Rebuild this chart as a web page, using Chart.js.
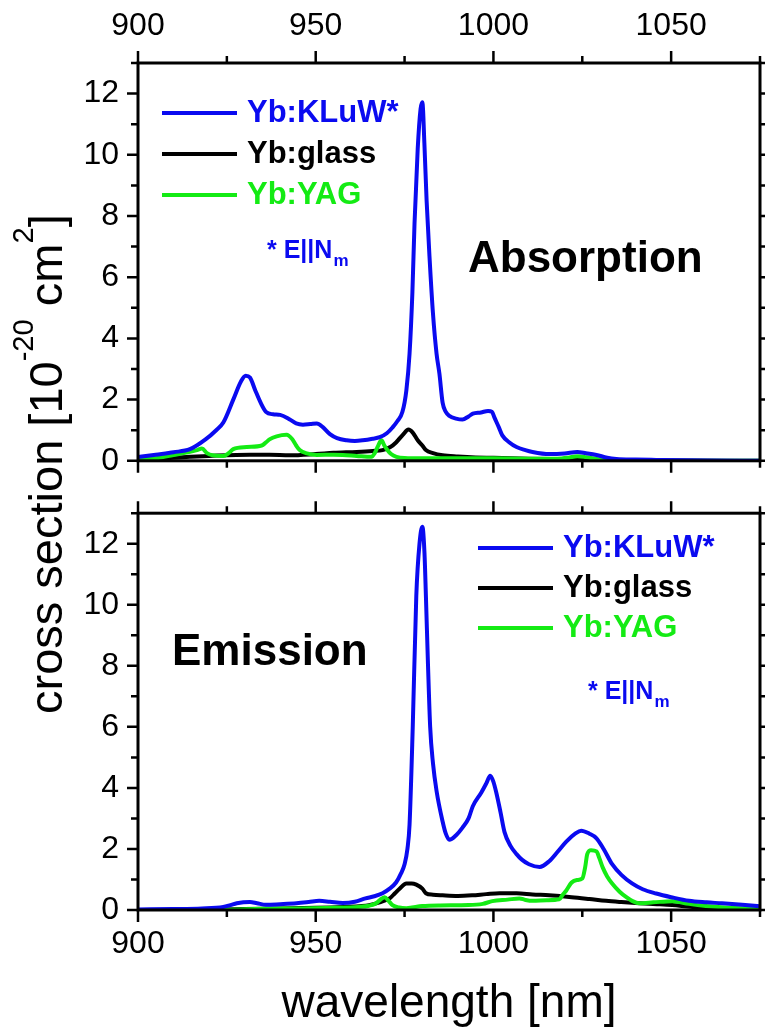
<!DOCTYPE html>
<html>
<head>
<meta charset="utf-8">
<title>Yb cross sections</title>
<script src="https://cdn.jsdelivr.net/npm/chart.js@4.4.1/dist/chart.umd.min.js"></script>
<style>
    body { margin: 0; background: #fff; }
    #wrap {
        position: relative; width: 765px; height: 1033px; overflow: hidden;
        font-family: 'Liberation Sans', Arial, sans-serif; color: #000;
    }
    #wrap canvas { position: absolute; left: 0; }
    #chartAbs { top: 0; }
    #chartEm { top: 487px; }
    .ytitle {
        position: absolute; left: 20px; top: 714px;
        transform-origin: 0 0; transform: rotate(-90deg);
        font-size: 47px; line-height: 52px; white-space: nowrap;
    }
    .ytitle sup { font-size: 0.62em; vertical-align: 0; position: relative; top: -1.0em; }
    .xtitle {
        position: absolute; left: 138px; width: 622px; top: 975px;
        text-align: center; font-size: 46px; line-height: 52px; white-space: nowrap;
    }
</style>
</head>
<body>
<div id="wrap">
    <canvas id="chartAbs" width="765" height="487"></canvas>
    <canvas id="chartEm" width="765" height="546"></canvas>
    <div class="ytitle">cross section [10<sup>-20</sup> cm<sup>2</sup>]</div>
    <div class="xtitle">wavelength [nm]</div>
</div>
<script>
// axis ticks
const xTickLabels = [900, 950, 1000, 1050];
const xTickMarks = [900, 925, 950, 975, 1000, 1025, 1050, 1075];
const yTickLabels = [0, 2, 4, 6, 8, 10, 12];
const yTickMarks = [0, 1, 2, 3, 4, 5, 6, 7, 8, 9, 10, 11, 12, 13];

const seriesNames = ['Yb:KLuW*', 'Yb:glass', 'Yb:YAG'];
const seriesColors = ['#0a0af0', '#000000', '#14eb14'];

// absorption, Yb:KLuW (E||Nm)
const absKLuWnm = [900, 905, 910, 914.6, 919, 922, 924, 926.8, 929, 930.3, 931.5, 933, 934.5, 936, 938, 940,
    942.7, 944.5, 946.4, 948.5, 950.3, 952, 954, 956, 958.7, 961, 963.2, 966, 968, 970, 971.6, 973, 974.4,
    975.5, 976.4, 977.2, 977.8, 978.7, 979.5, 980, 980.6, 981.2, 982, 983, 984, 984.8, 985.7, 986.6, 987.6,
    989.5, 991.3, 993, 994.2, 996.5, 998.5, 999.6, 1000.3, 1001.5, 1002.5, 1004.5, 1006.5, 1009, 1011,
    1015.7, 1020, 1023.6, 1026, 1029, 1032, 1034.6, 1040, 1045.8, 1060, 1075];
const absKLuW = [0.12, 0.2, 0.28, 0.38, 0.7, 1.0, 1.25, 2.0, 2.6, 2.78, 2.72, 2.3, 1.9, 1.6, 1.52, 1.5,
    1.35, 1.22, 1.18, 1.2, 1.22, 1.1, 0.87, 0.74, 0.67, 0.65, 0.67, 0.72, 0.77, 0.9, 1.09, 1.3, 1.6,
    2.3, 3.5, 5.5, 7.76, 10.2, 11.5, 11.72, 10.3, 8.5, 6.7, 4.8, 3.5, 2.85, 1.9, 1.6, 1.47,
    1.38, 1.35, 1.45, 1.54, 1.58, 1.63, 1.6, 1.41, 1.1, 0.83, 0.6, 0.45, 0.35, 0.29,
    0.22, 0.24, 0.29, 0.25, 0.19, 0.1, 0.06, 0.04, 0.03, 0.01, 0.0];

// absorption, Yb:glass
const absGlassNm = [900, 905, 910, 914.6, 920, 931.5, 937, 942.7, 950, 955, 961.5, 966, 968.8, 971, 972.6,
    974.5, 976.1, 977.3, 978.7, 980, 981, 983, 985.7, 990, 995, 1000, 1010, 1020, 1030, 1040, 1055, 1075];
const absGlass = [0.02, 0.05, 0.1, 0.13, 0.16, 0.2, 0.2, 0.18, 0.22, 0.26, 0.29, 0.32, 0.35, 0.45, 0.6,
    0.85, 1.02, 0.92, 0.67, 0.5, 0.35, 0.25, 0.18, 0.14, 0.11, 0.1, 0.07, 0.05, 0.03, 0.02, 0.01, 0.0];

// absorption, Yb:YAG
const absYAGnm = [900, 905, 910, 914, 916.6, 918, 919.4, 921, 924, 925.5, 926.8, 930.6, 934.8, 936, 937, 939,
    941.8, 943.3, 944.5, 945.5, 947.5, 950.3, 955, 957.6, 961.5, 965.7, 966.6, 967.4, 968.5, 969.3, 970,
    971.2, 972.7, 975, 980, 990, 1000, 1010, 1018, 1021, 1023.6, 1026, 1029, 1033, 1040, 1050, 1075];
const absYAG = [0.03, 0.08, 0.19, 0.28, 0.35, 0.4, 0.25, 0.18, 0.16, 0.25, 0.38, 0.45, 0.5, 0.6, 0.7, 0.8,
    0.85, 0.72, 0.5, 0.35, 0.24, 0.19, 0.2, 0.19, 0.16, 0.13, 0.25, 0.45, 0.67, 0.5, 0.38,
    0.22, 0.13, 0.09, 0.08, 0.08, 0.08, 0.07, 0.07, 0.1, 0.15, 0.12, 0.06, 0.03, 0.01, 0.0, 0.0];

// emission, Yb:KLuW (E||Nm)
const emKLuWnm = [900, 910, 918, 924, 926, 927.8, 931.5, 933.5, 936, 940, 944.6, 948, 951, 954, 957.6, 961,
    964, 966.5, 968.8, 970.8, 972.6, 974, 975, 975.8, 976.4, 977.3, 978.3, 979.2, 980, 980.6, 981, 981.6,
    982.2, 983, 984, 985.7, 986.6, 987.6, 989.5, 991.3, 993, 994.2, 996.6, 998, 999.1, 1000, 1000.8, 1002,
    1003.1, 1004.8, 1006.5, 1008, 1010, 1013, 1015.7, 1018, 1020.5, 1023, 1024.7, 1027, 1029, 1031, 1033.4,
    1036, 1039, 1042, 1045.8, 1050, 1055, 1060, 1064.3, 1070, 1075];
const emKLuW = [0.02, 0.03, 0.05, 0.1, 0.16, 0.22, 0.26, 0.22, 0.17, 0.19, 0.22, 0.26, 0.3, 0.27, 0.23, 0.27,
    0.38, 0.45, 0.55, 0.7, 0.9, 1.2, 1.5, 2.0, 2.8, 6.0, 10.3, 12.0, 12.56, 11.7, 10.3, 8.0,
    6.0, 4.8, 3.9, 2.9, 2.5, 2.3, 2.45, 2.7, 3.0, 3.4, 3.85, 4.15, 4.4, 4.2, 3.85, 3.2,
    2.56, 2.1, 1.83, 1.65, 1.5, 1.41, 1.6, 1.9, 2.24, 2.5, 2.6, 2.5, 2.35, 2.0, 1.5,
    1.15, 0.87, 0.68, 0.54, 0.42, 0.3, 0.25, 0.22, 0.17, 0.12];

// emission, Yb:glass
const emGlassNm = [900, 920, 930, 940, 950, 958, 963, 965, 968, 970.8, 972.3, 973.6, 975.5, 977, 978.3, 980,
    981, 983, 985.7, 990, 994, 998, 1001.7, 1006.5, 1011, 1015.7, 1022, 1027, 1031.7, 1036, 1041, 1046,
    1050.3, 1056, 1064, 1075];
const emGlass = [0.0, 0.01, 0.03, 0.05, 0.07, 0.1, 0.13, 0.16, 0.25, 0.38, 0.55, 0.7, 0.87, 0.87, 0.83, 0.7,
    0.55, 0.5, 0.48, 0.46, 0.48, 0.52, 0.55, 0.55, 0.51, 0.48, 0.42, 0.36, 0.3, 0.26, 0.22, 0.19,
    0.16, 0.1, 0.06, 0.03];

// emission, Yb:YAG
const emYAGnm = [900, 925, 935, 945, 955, 962, 965, 967, 968.4, 969.4, 970.5, 971.6, 973.5, 975.5, 980, 985,
    993, 997, 999.7, 1004, 1007.3, 1009, 1011, 1015, 1018.5, 1019.5, 1020.5, 1022, 1023.5, 1025, 1025.8,
    1026.4, 1027.5, 1029, 1029.8, 1030.8, 1032, 1033.4, 1035.5, 1037.4, 1039, 1041, 1045, 1050.3, 1055,
    1059.8, 1065, 1069, 1075];
const emYAG = [0.0, 0.01, 0.04, 0.05, 0.07, 0.1, 0.14, 0.22, 0.36, 0.42, 0.3, 0.16, 0.08, 0.06, 0.13, 0.15,
    0.16, 0.2, 0.29, 0.34, 0.38, 0.33, 0.3, 0.32, 0.35, 0.5, 0.64, 0.9, 0.98, 1.03, 1.4,
    1.83, 1.96, 1.92, 1.7, 1.38, 1.1, 0.87, 0.6, 0.42, 0.3, 0.22, 0.25, 0.29, 0.2,
    0.13, 0.08, 0.06, 0.03];

Chart.defaults.font.family = "'Liberation Sans', Arial, sans-serif";
Chart.defaults.color = '#000';

const toPoints = (nm, vals) => nm.map((x, i) => ({ x: x, y: vals[i] }));

/**
 * Frame round the plot area with outward major/minor ticks on all four sides
 */
const frameTicks = {
    id: 'frameTicks',
    afterDatasetsDraw(chart) {
        const { ctx, chartArea: a, scales } = chart;
        ctx.save();
        ctx.strokeStyle = '#000';
        ctx.lineWidth = 3;
        ctx.strokeRect(a.left, a.top, a.right - a.left, a.bottom - a.top);
        ctx.lineWidth = 2.5;
        ctx.beginPath();
        xTickMarks.forEach(v => {
            const px = scales.x.getPixelForValue(v);
            const len = xTickLabels.includes(v) ? 12 : 7;
            ctx.moveTo(px, a.top); ctx.lineTo(px, a.top - len);
            ctx.moveTo(px, a.bottom); ctx.lineTo(px, a.bottom + len);
        });
        yTickMarks.forEach(v => {
            const py = scales.y.getPixelForValue(v);
            const len = yTickLabels.includes(v) ? 11 : 7;
            ctx.moveTo(a.left, py); ctx.lineTo(a.left - len, py);
            ctx.moveTo(a.right, py); ctx.lineTo(a.right + 6, py);
        });
        ctx.stroke();
        ctx.restore();
    }
};

/**
 * In-plot legend, polarisation note and panel name
 */
const panelNotes = {
    id: 'panelNotes',
    afterDraw(chart, args, opts) {
        const ctx = chart.ctx;
        ctx.save();
        ctx.textBaseline = 'middle';
        ctx.textAlign = 'left';
        seriesNames.forEach((name, i) => {
            const y = opts.legendY + i * opts.rowGap;
            ctx.strokeStyle = seriesColors[i];
            ctx.lineWidth = 4;
            ctx.beginPath();
            ctx.moveTo(opts.legendX, y);
            ctx.lineTo(opts.legendX + 75, y);
            ctx.stroke();
            ctx.fillStyle = seriesColors[i];
            ctx.font = "bold 31px 'Liberation Sans', Arial, sans-serif";
            ctx.fillText(name, opts.legendX + 85, y);
        });

        ctx.fillStyle = seriesColors[0];
        ctx.textBaseline = 'alphabetic';
        ctx.font = "bold 25px 'Liberation Sans', Arial, sans-serif";
        ctx.fillText('* E||N', opts.noteX, opts.noteY);
        const w = ctx.measureText('* E||N').width;
        ctx.font = "bold 17px 'Liberation Sans', Arial, sans-serif";
        ctx.fillText('m', opts.noteX + w + 1, opts.noteY + 8);

        ctx.fillStyle = '#000';
        ctx.textBaseline = 'middle';
        ctx.font = "bold 44px 'Liberation Sans', Arial, sans-serif";
        ctx.fillText(opts.title, opts.titleX, opts.titleY);
        ctx.restore();
    }
};

function makePanel(canvasId, series, xPosition, topPad, bottomPad, xAxisHeight, xLabelPad, notes) {
    const datasets = series.map((s, i) => ({
        label: seriesNames[i],
        data: toPoints(s[0], s[1]),
        borderColor: seriesColors[i],
        borderWidth: 4,
        pointRadius: 0,
        fill: false,
        cubicInterpolationMode: 'monotone',
        order: [0, 2, 1][i]
    }));

    return new Chart(document.getElementById(canvasId), {
        type: 'line',
        data: { datasets: datasets },
        options: {
            responsive: false,
            animation: false,
            devicePixelRatio: 1,
            layout: { padding: { left: 0, right: 5, top: topPad, bottom: bottomPad } },
            plugins: {
                legend: { display: false },
                tooltip: { enabled: false },
                panelNotes: notes
            },
            scales: {
                x: {
                    type: 'linear',
                    position: xPosition,
                    min: 900,
                    max: 1075,
                    grid: { display: false, drawTicks: true, tickLength: 12 },
                    border: { display: false },
                    ticks: {
                        font: { size: 32 }, padding: xLabelPad, maxRotation: 0, autoSkip: false,
                        callback: v => String(v)
                    },
                    afterBuildTicks: scale => { scale.ticks = xTickLabels.map(v => ({ value: v })); },
                    afterFit: scale => { scale.height = xAxisHeight; }
                },
                y: {
                    type: 'linear',
                    position: 'left',
                    min: 0,
                    max: 13,
                    grid: { display: false, drawTicks: true, tickLength: 12 },
                    border: { display: false },
                    ticks: { font: { size: 32 }, padding: 7, callback: v => String(v) },
                    afterBuildTicks: scale => { scale.ticks = yTickLabels.map(v => ({ value: v })); },
                    afterFit: scale => { scale.width = 138; }
                }
            }
        },
        plugins: [frameTicks, panelNotes]
    });
}

makePanel('chartAbs',
    [[absKLuWnm, absKLuW], [absGlassNm, absGlass], [absYAGnm, absYAG]],
    'top', 0, 18, 63, 6,
    { legendX: 162, legendY: 113, rowGap: 41, noteX: 267, noteY: 258, title: 'Absorption', titleX: 468, titleY: 260 });

makePanel('chartEm',
    [[emKLuWnm, emKLuW], [emGlassNm, emGlass], [emYAGnm, emYAG]],
    'bottom', 17, 0, 123, 3,
    { legendX: 478, legendY: 61, rowGap: 40, noteX: 588, noteY: 212, title: 'Emission', titleX: 172, titleY: 166 });
</script>
</body>
</html>
